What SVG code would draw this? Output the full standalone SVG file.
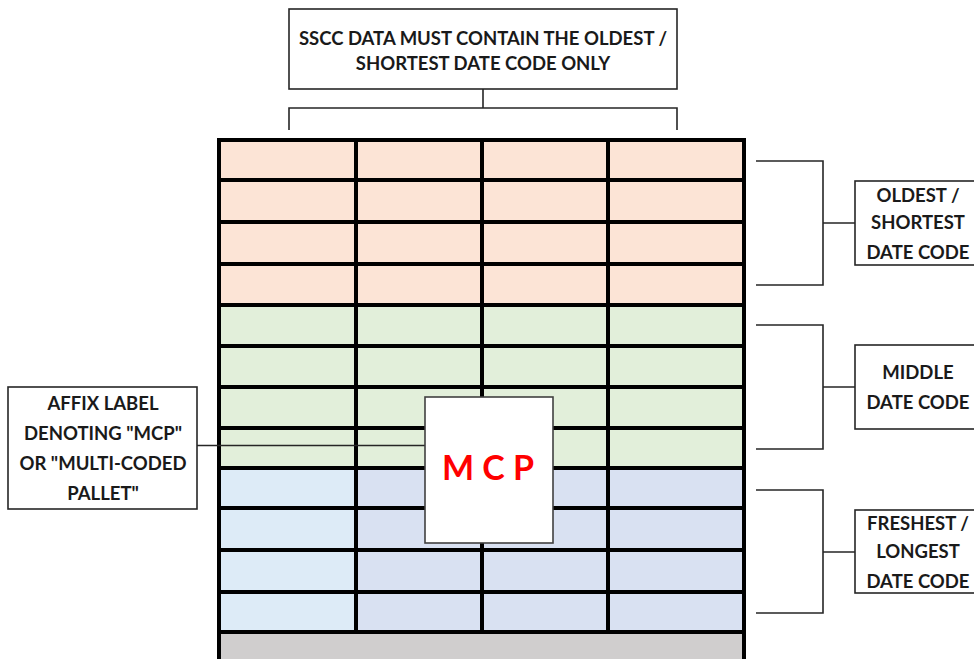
<svg xmlns="http://www.w3.org/2000/svg" width="974" height="659" viewBox="0 0 974 659">
<style>
.lbl{fill:#fff;stroke:#262626;stroke-width:1.6}
.t{font-family:Lato,"Liberation Sans",sans-serif;font-weight:700;font-size:18.5px;fill:#1a1a1a;text-anchor:middle}
.con{fill:none;stroke:#262626;stroke-width:1.6}
.grid{stroke:#000;stroke-width:4;fill:none}
.pe{fill:#FCE4D6}.gr{fill:#E2EFDA}.bl1{fill:#DDEBF7}.bl2{fill:#D9E1F2}.gy{fill:#D0CECE}
</style>
<rect width="974" height="659" fill="#fff"/>
<g id="pallet">
<rect class="pe" x="219" y="140" width="525" height="165"/>
<rect class="gr" x="219" y="305" width="525" height="163"/>
<rect class="bl1" x="219" y="468" width="137" height="164"/>
<rect class="bl2" x="356" y="468" width="388" height="164"/>
<rect class="gy" x="219" y="632" width="525" height="30"/>
<path class="grid" d="M219,140H744M219,180H744M219,222H744M219,264H744M219,305H744M219,346H744M219,387H744M219,428H744M219,468H744M219,508H744M219,550H744M219,592H744M219,632H744M219,138V662M744,138V662M356,140V632M482,140V632M608,140V632"/>
</g>
<g id="connectors">
<path class="con" d="M483,89V108M289,130V108H677V130"/>
<path class="con" d="M756,161H823V285H756M823,223H855"/>
<path class="con" d="M756,325H823V449H756M823,387H855"/>
<path class="con" d="M756,490H823V613H756M823,552H855"/>
<path class="con" d="M197,445.5H425"/>
</g>
<g id="top-label">
<rect class="lbl" x="289" y="9" width="388" height="80"/>
<text class="t" x="483" y="44.5">SSCC DATA MUST CONTAIN THE OLDEST /</text>
<text class="t" x="483" y="69.5">SHORTEST DATE CODE ONLY</text>
</g>
<g id="oldest-label">
<rect class="lbl" x="855" y="181" width="130" height="84"/>
<text class="t" x="918" y="201.5">OLDEST /</text>
<text class="t" x="918" y="228.5">SHORTEST</text>
<text class="t" x="918" y="258.5">DATE CODE</text>
</g>
<g id="middle-label">
<rect class="lbl" x="855" y="345" width="130" height="84"/>
<text class="t" x="918" y="378.5">MIDDLE</text>
<text class="t" x="918" y="408.5">DATE CODE</text>
</g>
<g id="freshest-label">
<rect class="lbl" x="855" y="510" width="130" height="83"/>
<text class="t" x="918" y="529.5">FRESHEST /</text>
<text class="t" x="918" y="557.5">LONGEST</text>
<text class="t" x="918" y="587.5">DATE CODE</text>
</g>
<g id="affix-label">
<rect class="lbl" x="8" y="387" width="189" height="122"/>
<text class="t" x="103" y="409.5">AFFIX LABEL</text>
<text class="t" x="103" y="439.5">DENOTING "MCP"</text>
<text class="t" x="103" y="469.5">OR "MULTI-CODED</text>
<text class="t" x="103" y="499.5">PALLET"</text>
</g>
<g id="mcp-label">
<rect x="425" y="397" width="128" height="146" fill="#fff" stroke="#404040" stroke-width="1.6"/>
<text x="488" y="480" font-family="Lato,'Liberation Sans',sans-serif" font-weight="700" font-size="34" fill="#FF0000" text-anchor="middle">M C P</text>
</g>
</svg>
